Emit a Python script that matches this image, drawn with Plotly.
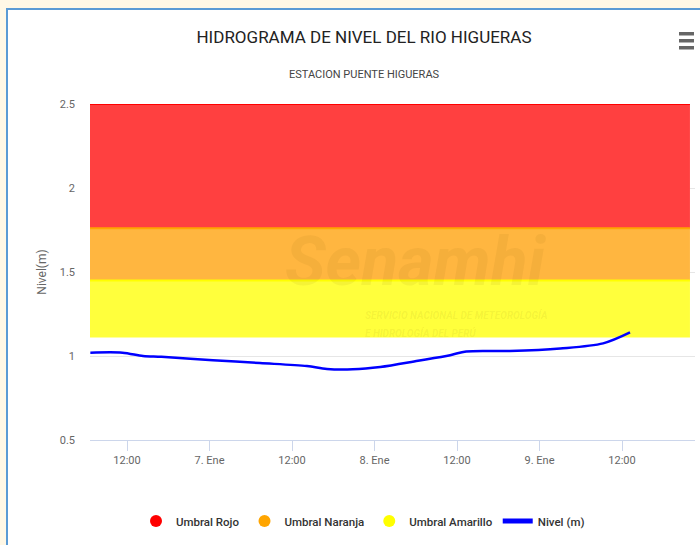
import plotly.graph_objects as go

# ---------------- data ----------------
nivel_time = ["2020-01-06 06:40", "2020-01-06 11:20", "2020-01-06 14:20", "2020-01-06 17:00",
              "2020-01-07 00:30", "2020-01-07 07:20", "2020-01-07 14:10", "2020-01-07 17:05",
              "2020-01-07 20:50", "2020-01-08 00:50", "2020-01-08 06:20", "2020-01-08 11:00",
              "2020-01-08 13:20", "2020-01-08 19:40", "2020-01-09 03:00", "2020-01-09 09:15",
              "2020-01-09 13:10"]
nivel_m = [1.02, 1.02, 1.00, 0.995, 0.975, 0.958, 0.94, 0.923, 0.921, 0.935, 0.972, 1.005,
           1.027, 1.03, 1.045, 1.075, 1.14]

umbral_names = ["Umbral Rojo", "Umbral Naranja", "Umbral Amarillo"]
umbral_low = [1.76, 1.45, 1.11]
umbral_high = [2.5, 1.76, 1.45]
umbral_fill = ["rgba(255,64,64,1)", "rgba(255,182,64,1)", "rgba(255,255,60,1)"]
umbral_line = ["rgb(255,0,0)", "rgb(255,165,0)", "rgb(255,255,0)"]
umbral_legend = ["#ff0000", "#ffa500", "#ffff00"]
umbral_start = "2020-01-06 06:37"
umbral_end = "2020-01-09 21:53"

x_range = ["2020-01-06 06:37", "2020-01-09 22:37"]
x_tickvals = ["2020-01-06 12:00", "2020-01-07 00:00", "2020-01-07 12:00", "2020-01-08 00:00",
              "2020-01-08 12:00", "2020-01-09 00:00", "2020-01-09 12:00"]
x_ticktext = ["12:00", "7. Ene", "12:00", "8. Ene", "12:00", "9. Ene", "12:00"]
y_tickvals = [0.5, 1, 1.5, 2, 2.5]
y_ticktext = ["0.5", "1", "1.5", "2", "2.5"]

FONT = "Roboto, Liberation Sans, sans-serif"

# plot area in pixels (for paper coordinate helpers)
L, R, T, B = 90, 695, 104, 440


def xp(px):
    return (px - L) / (R - L)


def yp(py):
    return (B - py) / (B - T)


fig = go.Figure()

# threshold bands
for name, lo, hi, fc, lc in zip(umbral_names, umbral_low, umbral_high, umbral_fill, umbral_line):
    fig.add_trace(go.Scatter(
        x=[umbral_start, umbral_end, umbral_end, umbral_start, umbral_start],
        y=[lo, lo, hi, hi, lo], fill="toself", fillcolor=fc, mode="lines",
        line=dict(width=0), hoverinfo="skip", showlegend=False))
    fig.add_trace(go.Scatter(
        x=[umbral_start, umbral_end], y=[hi, hi], mode="lines",
        line=dict(color=lc, width=2), hoverinfo="skip", showlegend=False))

# legend entries for thresholds
for name, c in zip(umbral_names, umbral_legend):
    fig.add_trace(go.Scatter(x=[None], y=[None], mode="markers", name=name,
                             marker=dict(symbol="circle", size=13, color=c)))

# water level line
fig.add_trace(go.Scatter(x=nivel_time, y=nivel_m, mode="lines", name="Nivel (m)",
                         line=dict(color="#0000ff", width=2.5, shape="spline", smoothing=0.9)))

shapes = [
    # page frame (beige surround and blue border)
    dict(type="rect", xref="paper", yref="paper", x0=xp(0), x1=xp(700), y0=yp(0), y1=yp(8),
         fillcolor="#fff8e6", line=dict(width=0), layer="above"),
    dict(type="rect", xref="paper", yref="paper", x0=xp(0), x1=xp(6), y0=yp(0), y1=yp(545),
         fillcolor="#fff8e6", line=dict(width=0), layer="above"),
    dict(type="line", xref="paper", yref="paper", x0=xp(7), x1=xp(7), y0=yp(8), y1=yp(545),
         line=dict(color="#5b9bd5", width=2), layer="above"),
    dict(type="line", xref="paper", yref="paper", x0=xp(6), x1=xp(700), y0=yp(9), y1=yp(9),
         line=dict(color="#5b9bd5", width=2), layer="above"),
]
# hamburger menu icon
for y0 in (32, 39, 46):
    shapes.append(dict(type="rect", xref="paper", yref="paper", x0=xp(679), x1=xp(694),
                       y0=yp(y0), y1=yp(y0 + 3.5), fillcolor="#666666", line=dict(width=0),
                       layer="above"))

annotations = [
    dict(text="Senamhi", xref="paper", yref="paper", x=xp(416), y=yp(262), showarrow=False,
         xanchor="center", yanchor="middle",
         font=dict(family=FONT, size=68, color="rgba(110,80,0,0.07)", weight="bold", style="italic")),
    dict(text="SERVICIO NACIONAL DE METEOROLOGÍA", xref="paper", yref="paper", x=xp(363), y=yp(315),
         showarrow=False, xanchor="left", yanchor="middle",
         font=dict(family=FONT, size=10, color="rgba(110,80,0,0.08)", weight="bold", style="italic")),
    dict(text="E HIDROLOGÍA DEL PERÚ", xref="paper", yref="paper", x=xp(363), y=yp(333),
         showarrow=False, xanchor="left", yanchor="middle",
         font=dict(family=FONT, size=10, color="rgba(110,80,0,0.08)", weight="bold", style="italic")),
    dict(text="ESTACION PUENTE HIGUERAS", xref="paper", yref="paper", x=xp(364), y=yp(74),
         showarrow=False, xanchor="center", yanchor="middle",
         font=dict(family=FONT, size=11, color="#444444")),
]

fig.update_layout(
    width=700, height=545,
    margin=dict(l=L, r=700 - R, t=T, b=545 - B, autoexpand=False),
    paper_bgcolor="white", plot_bgcolor="white",
    title=dict(text="HIDROGRAMA DE NIVEL DEL RIO HIGUERAS", x=364 / 700, xref="container",
               xanchor="center", y=1 - 37 / 545, yref="container", yanchor="middle",
               font=dict(family=FONT, size=17, color="#222222")),
    xaxis=dict(type="date", range=x_range, tickvals=x_tickvals, ticktext=x_ticktext,
               showgrid=False, zeroline=False, showline=True, linecolor="#ccd6eb", linewidth=1,
               ticks="outside", ticklen=10, tickcolor="#ccd6eb", automargin=False,
               tickfont=dict(family=FONT, size=11, color="#666666")),
    yaxis=dict(range=[0.5, 2.5], tickvals=y_tickvals, ticktext=y_ticktext,
               showgrid=True, gridcolor="#e6e6e6", zeroline=False, showline=False,
               ticklabelstandoff=14, automargin=False,
               tickfont=dict(family=FONT, size=11, color="#666666"),
               title=dict(text="Nivel(m)", standoff=10,
                          font=dict(family=FONT, size=12, color="#666666"))),
    legend=dict(orientation="h", x=xp(363), xanchor="center", y=yp(521), yanchor="middle",
                font=dict(family=FONT, size=11.5, color="#333333", weight=500), itemsizing="constant",
                itemwidth=30, bgcolor="rgba(0,0,0,0)"),
    shapes=shapes,
    annotations=annotations,
    showlegend=True,
)

fig.write_html("out.html", config={"displayModeBar": False},
               post_script="document.body.style.margin='0';")
